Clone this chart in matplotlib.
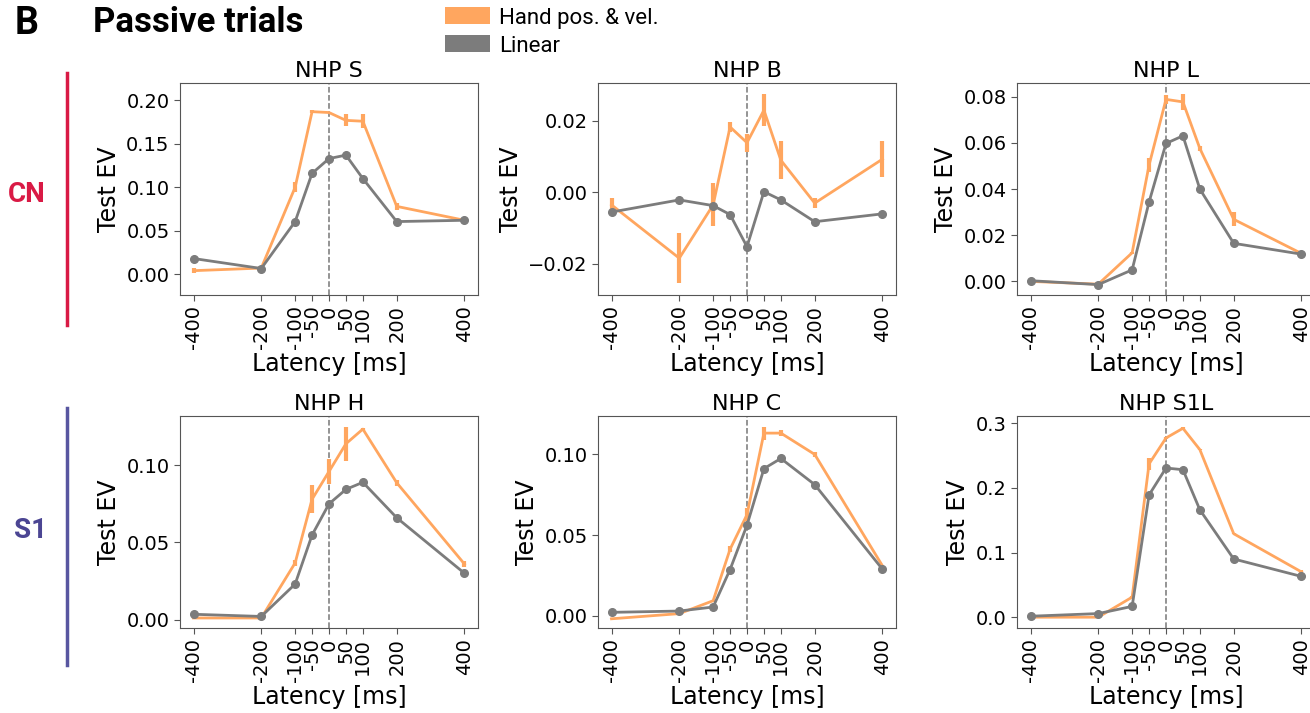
import matplotlib
matplotlib.use("Agg")
import matplotlib.pyplot as plt
from matplotlib.patches import Patch
from matplotlib.lines import Line2D

latency = [-400, -200, -100, -50, 0, 50, 100, 200, 400]
tick_labels = ["-400", "-200", "-100", "-50", "0", "50", "100", "200", "400"]

# NHP S
s_hand = [0.004, 0.007, 0.100, 0.187, 0.186, 0.177, 0.176, 0.078, 0.062]
s_hand_err = [0.003, 0.001, 0.006, 0.002, 0.001, 0.007, 0.008, 0.004, 0.002]
s_lin = [0.018, 0.0065, 0.0605, 0.116, 0.133, 0.137, 0.110, 0.0605, 0.062]
# NHP B
b_hand = [-0.0035, -0.0184, -0.0035, 0.0183, 0.0139, 0.023, 0.009, -0.003, 0.0093]
b_hand_err = [0.002, 0.007, 0.006, 0.0015, 0.0025, 0.0045, 0.0053, 0.0015, 0.005]
b_lin = [-0.0055, -0.0021, -0.0037, -0.0062, -0.0152, 0.0002, -0.0021, -0.0082, -0.006]
# NHP L
l_hand = [0.0, -0.0012, 0.0124, 0.0504, 0.0789, 0.0778, 0.0576, 0.0269, 0.0121]
l_hand_err = [0.0003, 0.0003, 0.0004, 0.003, 0.002, 0.0035, 0.001, 0.003, 0.0003]
l_lin = [0.0003, -0.0014, 0.005, 0.0344, 0.0598, 0.0631, 0.040, 0.0165, 0.0118]
# NHP H
h_hand = [0.001, 0.001, 0.0367, 0.078, 0.096, 0.114, 0.1235, 0.0887, 0.036]
h_hand_err = [0.0005, 0.0005, 0.002, 0.009, 0.008, 0.011, 0.001, 0.002, 0.002]
h_lin = [0.0034, 0.002, 0.023, 0.0548, 0.075, 0.0844, 0.089, 0.066, 0.030]
# NHP C
c_hand = [-0.0018, 0.0014, 0.0094, 0.0413, 0.0627, 0.1132, 0.1132, 0.100, 0.031]
c_hand_err = [0.0003, 0.001, 0.0005, 0.002, 0.004, 0.004, 0.002, 0.0015, 0.0005]
c_lin = [0.0022, 0.003, 0.0055, 0.0287, 0.0562, 0.0912, 0.0975, 0.0813, 0.0289]
# NHP S1L
s1l_hand = [0.0, 0.0, 0.031, 0.237, 0.277, 0.292, 0.259, 0.129, 0.070]
s1l_hand_err = [0.001, 0.001, 0.001, 0.009, 0.001, 0.002, 0.001, 0.001, 0.003]
s1l_lin = [0.0015, 0.0056, 0.0167, 0.189, 0.2306, 0.228, 0.166, 0.090, 0.063]

titles = ["NHP S", "NHP B", "NHP L", "NHP H", "NHP C", "NHP S1L"]
hand_series = [s_hand, b_hand, l_hand, h_hand, c_hand, s1l_hand]
hand_errs = [s_hand_err, b_hand_err, l_hand_err, h_hand_err, c_hand_err, s1l_hand_err]
lin_series = [s_lin, b_lin, l_lin, h_lin, c_lin, s1l_lin]
ylims = [(-0.024, 0.22), (-0.0287, 0.0306), (-0.0059, 0.086),
         (-0.0055, 0.132), (-0.0075, 0.1238), (-0.0167, 0.311)]
yticks = [[0, 0.05, 0.10, 0.15, 0.20], [-0.02, 0.0, 0.02], [0, 0.02, 0.04, 0.06, 0.08],
          [0, 0.05, 0.10], [0, 0.05, 0.10], [0, 0.1, 0.2, 0.3]]
yfmt = ["{:.2f}", "{:.2f}", "{:.2f}", "{:.2f}", "{:.2f}", "{:.1f}"]

ORANGE = "#FFA65F"
GRAY = "#7c7c7c"
SPINE = "#555555"

fig = plt.figure(figsize=(13.1, 7.13), dpi=100)
W, H = 1310, 713
lefts = [180, 598, 1017]
tops = [83, 416]
aw, ah = 298, 212

for i in range(6):
    r, c = divmod(i, 3)
    ax = fig.add_axes([lefts[c] / W, 1 - (tops[r] + ah) / H, aw / W, ah / H])
    ax.axvline(0, color="#777777", ls="--", lw=1.1, zorder=1)
    ax.errorbar(latency, hand_series[i], yerr=hand_errs[i], color=ORANGE, lw=2,
                elinewidth=3, capsize=0, zorder=2)
    ax.plot(latency, lin_series[i], "o-", color=GRAY, lw=2, ms=5.5, zorder=3)
    ax.set_xlim(-440, 440)
    ax.set_ylim(*ylims[i])
    ax.set_xticks(latency)
    ax.set_xticklabels(tick_labels, rotation=90, fontsize=14)
    ax.set_yticks(yticks[i])
    ax.set_yticklabels([yfmt[i].format(v).replace("-", "\u2212") for v in yticks[i]], fontsize=14)
    ax.set_title(titles[i], fontsize=16, pad=4)
    ax.set_xlabel("Latency [ms]", fontsize=17, labelpad=2)
    ax.set_ylabel("Test EV", fontsize=17, labelpad=4)
    for sp in ax.spines.values():
        sp.set_color(SPINE)
    ax.tick_params(color=SPINE, length=4)

fig.text(15 / W, 1 - 23 / H, "B", fontsize=27, fontweight="bold", family="Roboto", va="center")
fig.text(93 / W, 1 - 23 / H, "Passive trials", fontsize=25, fontweight="bold", family="Roboto", va="center")

fig.text(8 / W, 1 - 195 / H, "CN", fontsize=20, fontweight="bold", family="Roboto",
         color="#D91A45", va="center")
fig.text(14 / W, 1 - 530 / H, "S1", fontsize=20, fontweight="bold", family="Roboto",
         color="#4B4593", va="center")
fig.add_artist(Line2D([67 / W, 67 / W], [1 - 73 / H, 1 - 325 / H], color="#D91A45", lw=2.5))
fig.add_artist(Line2D([67 / W, 67 / W], [1 - 408 / H, 1 - 665 / H], color="#5856A0", lw=2.5))

handles = [Patch(facecolor=ORANGE, edgecolor="none"), Patch(facecolor=GRAY, edgecolor="none")]
fig.legend(handles, ["Hand pos. & vel.", "Linear"], loc="upper left",
           bbox_to_anchor=(441 / W, 1 - 3 / H), frameon=False, borderaxespad=0, borderpad=0.2,
           prop={"family": "Roboto", "size": 16}, handlelength=2.0, handleheight=0.8,
           labelspacing=0.3, handletextpad=0.4)

fig.savefig("out.png", dpi=100)
